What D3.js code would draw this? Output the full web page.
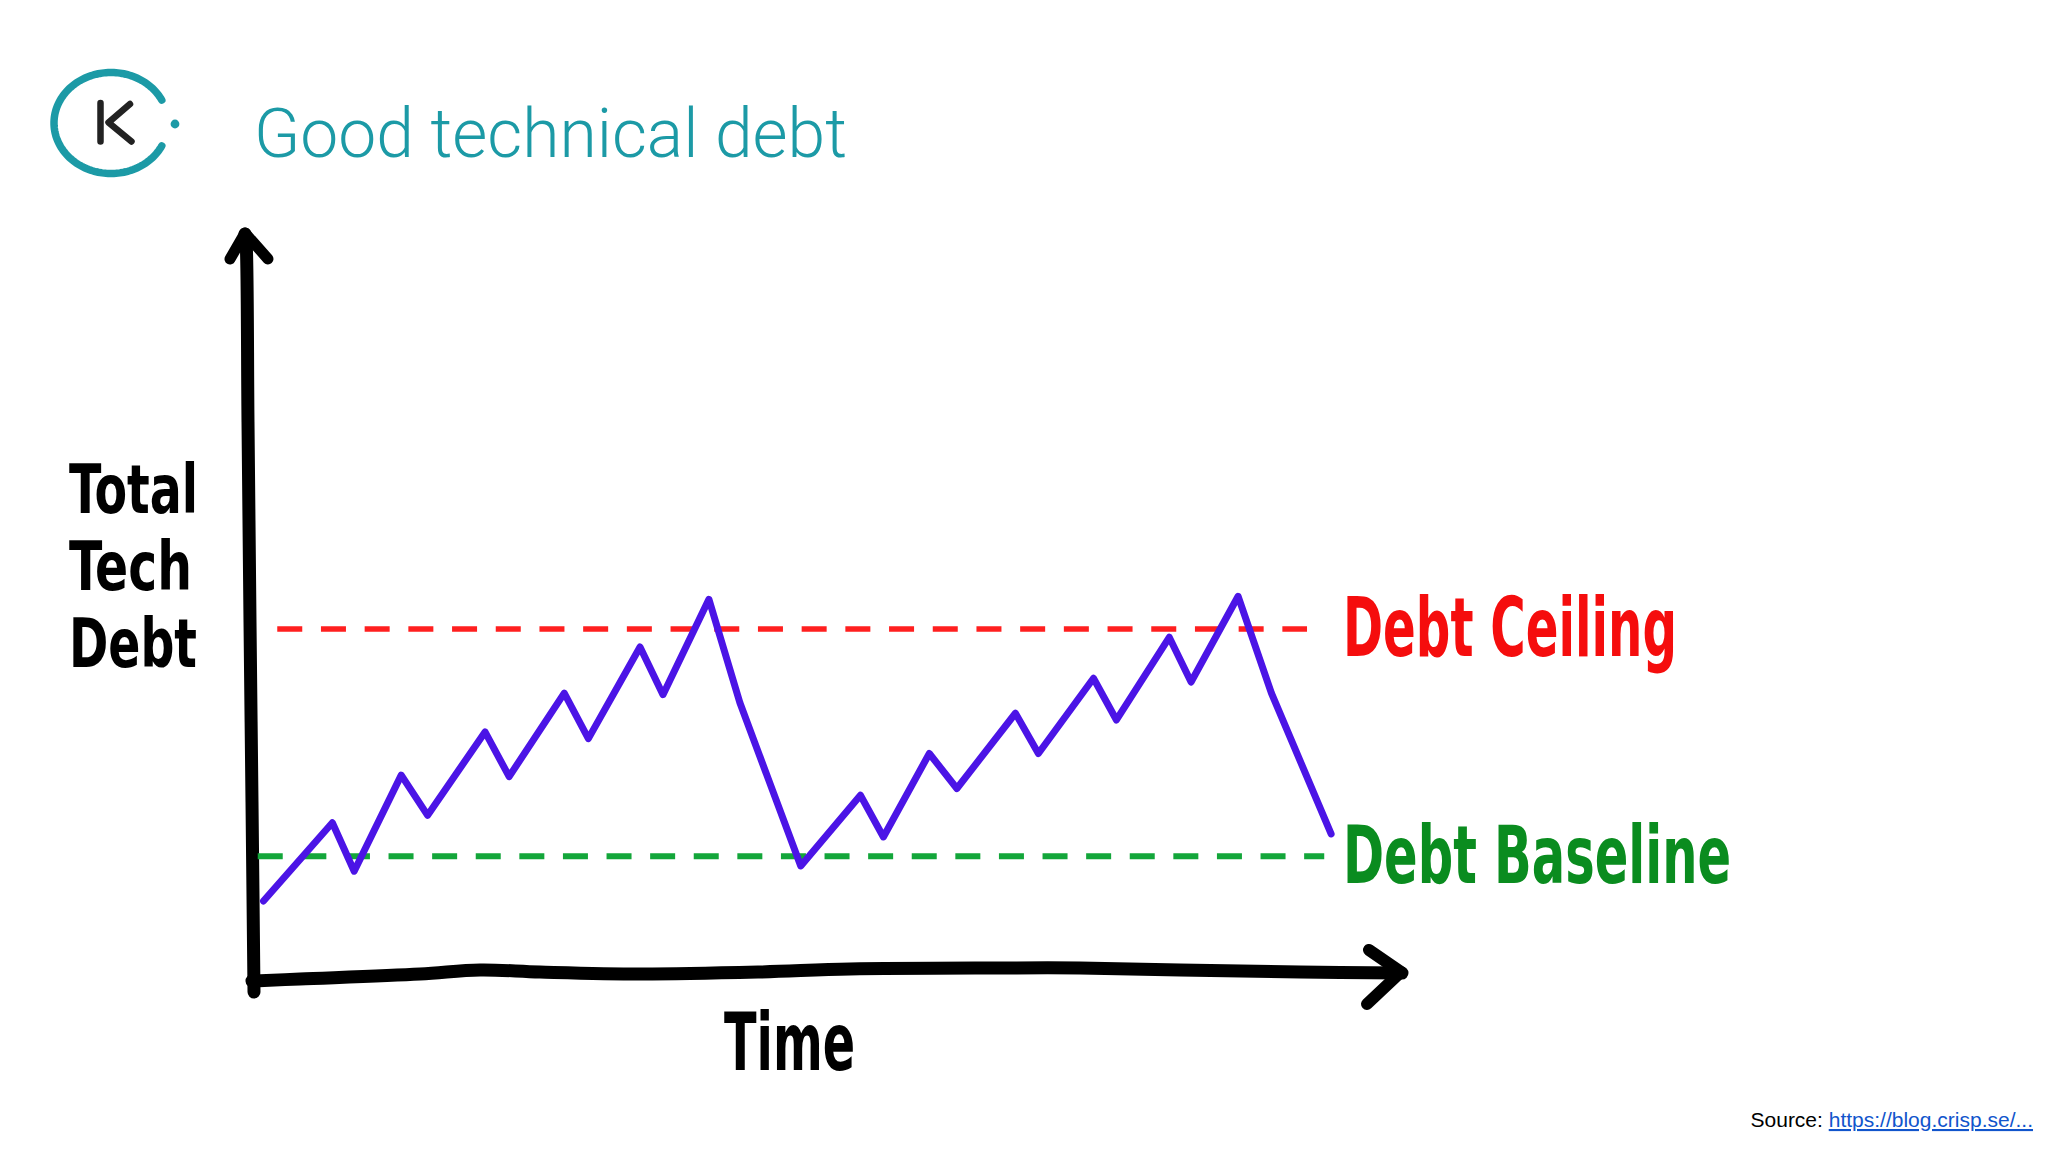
<!DOCTYPE html>
<html>
<head>
<meta charset="utf-8">
<script src="https://cdn.jsdelivr.net/npm/d3@7"></script>
<style>
  html, body { margin: 0; padding: 0; background: #ffffff; }
  svg { display: block; }
</style>
</head>
<body>
<svg id="chart" width="2048" height="1152"></svg>
<script>
// ---------------- DATA ----------------
const titleText = "Good technical debt";
const timeValues = [1.0, 7.0, 8.9, 13.0, 15.3, 20.3, 22.4, 27.2, 29.3, 33.8, 35.8, 39.8, 42.5,
                    47.8, 53.0, 55.0, 59.0, 61.4, 66.5, 68.5, 73.3, 75.3, 79.9, 81.8, 85.9, 88.8, 94.0];
const debtValues = [10.2, 20.7, 14.2, 27.1, 21.7, 32.9, 26.9, 38.1, 32.0, 44.3, 37.9, 50.7, 36.8,
                    14.9, 24.4, 18.8, 30.0, 25.3, 35.4, 30.0, 40.1, 34.5, 45.6, 39.6, 51.1, 38.1, 19.2];
const ceilingLevel = 46.7;
const ceilingSpan = [2.2, 91.9];
const baselineLevel = 16.2;
const baselineSpan = [0.5, 93.4];
const yLabelLines = ["Total", "Tech", "Debt"];
const xLabel = "Time";
const ceilingLabel = "Debt Ceiling";
const baselineLabel = "Debt Baseline";
const sourcePrefix = "Source: ";
const sourceLink = "https://blog.crisp.se/...";

// ---------------- SETUP ----------------
const svg = d3.select("#chart");
const x = d3.scaleLinear().domain([0, 100]).range([252, 1400]);
const y = d3.scaleLinear().domain([0, 100]).range([977, 232]);

const teal = "#1c9aa6";

// ---------------- LOGO ----------------
const logo = svg.append("g").attr("transform", "translate(111,123)");
const rx = 57, ry = 50.5, gapDeg = 27;
const arcPts = d3.range(gapDeg, 360 - gapDeg + 0.1, 2).map(a => {
  const t = a * Math.PI / 180;
  return [rx * Math.cos(t), -ry * Math.sin(t)];
});
logo.append("path")
  .attr("d", d3.line()(arcPts))
  .attr("fill", "none").attr("stroke", teal)
  .attr("stroke-width", 7.5).attr("stroke-linecap", "round");
logo.append("circle").attr("cx", 64).attr("cy", 1).attr("r", 4.4).attr("fill", teal);
logo.append("path")
  .attr("d", "M-10.5,-20 L-10.5,18.5 M19,-19 L-2.5,-0.5 L20.5,18.5")
  .attr("fill", "none").attr("stroke", "#222")
  .attr("stroke-width", 6.5).attr("stroke-linecap", "round").attr("stroke-linejoin", "round");

// ---------------- TITLE ----------------
svg.append("text")
  .attr("x", 254).attr("y", 157)
  .attr("font-family", "Roboto").attr("font-weight", 300)
  .attr("font-size", 69).attr("fill", teal)
  .attr("textLength", 593).attr("lengthAdjust", "spacingAndGlyphs")
  .text(titleText);

// ---------------- AXES (hand drawn) ----------------
const x0 = x.range()[0], x1 = x.range()[1];
const y0 = y.range()[0], y1 = y.range()[1];
// gentle wobble offsets along the axes
const yAxisPts = [[-7, 2], [-6, 8], [-4, 190], [-2, 390], [0, 570], [2, 760]]
  .map(([dx, dy]) => [x0 + dx, y1 + dy]);
const xAxisPts = [[0, 4], [48, 2], [168, -3], [228, -7], [288, -5], [388, -3], [508, -5],
                  [598, -8], [748, -9], [828, -9], [928, -7], [1048, -5], [1150, -4]]
  .map(([dx, dy]) => [x0 + dx, y0 + dy]);

const smooth = d3.line().curve(d3.curveCatmullRom.alpha(0.5));
svg.append("path").attr("d", smooth(yAxisPts))
  .attr("fill", "none").attr("stroke", "#000").attr("stroke-width", 13).attr("stroke-linecap", "round");
svg.append("path").attr("d", smooth(xAxisPts))
  .attr("fill", "none").attr("stroke", "#000").attr("stroke-width", 13).attr("stroke-linecap", "round");
// arrow heads
svg.append("path")
  .attr("d", d3.line()([[x0 - 22, y1 + 27], [x0 - 7, y1 + 1], [x0 + 16, y1 + 27]]))
  .attr("fill", "none").attr("stroke", "#000").attr("stroke-width", 11)
  .attr("stroke-linecap", "round").attr("stroke-linejoin", "round");
svg.append("path")
  .attr("d", d3.line()([[x1 - 31, y0 - 27], [x1 + 1, y0 - 5], [x1 - 33, y0 + 27]]))
  .attr("fill", "none").attr("stroke", "#000").attr("stroke-width", 12)
  .attr("stroke-linecap", "round").attr("stroke-linejoin", "round");

// ---------------- REFERENCE LINES ----------------
svg.append("line")
  .attr("x1", x(ceilingSpan[0])).attr("x2", x(ceilingSpan[1]))
  .attr("y1", y(ceilingLevel)).attr("y2", y(ceilingLevel))
  .attr("stroke", "#ff1f1f").attr("stroke-width", 5.5).attr("stroke-dasharray", "25 18.7");
svg.append("line")
  .attr("x1", x(baselineSpan[0])).attr("x2", x(baselineSpan[1]))
  .attr("y1", y(baselineLevel)).attr("y2", y(baselineLevel))
  .attr("stroke", "#13a63a").attr("stroke-width", 6).attr("stroke-dasharray", "25 18.6");

// ---------------- DEBT LINE ----------------
const pts = timeValues.map((t, i) => [t, debtValues[i]]);
svg.append("path")
  .datum(pts)
  .attr("d", d3.line().x(d => x(d[0])).y(d => y(d[1])))
  .attr("fill", "none").attr("stroke", "#4b14e6")
  .attr("stroke-width", 7).attr("stroke-linejoin", "round").attr("stroke-linecap", "round");

// ---------------- HAND-LETTERED LABELS ----------------
const handFont = "'Liberation Sans Narrow', 'DejaVu Sans Condensed', sans-serif";
function handText(txt, xs, ys, width, size, color) {
  svg.append("text")
    .attr("x", xs).attr("y", ys)
    .attr("font-family", handFont).attr("font-weight", 700)
    .attr("font-size", size).attr("fill", color)
    .attr("textLength", width).attr("lengthAdjust", "spacingAndGlyphs")
    .text(txt);
}
// stacked y-axis title (three lines)
const yLabelWidths = [129, 123, 128];
const yLabelBaselines = [513, 590, 667];
yLabelLines.forEach((t, i) => handText(t, 69, yLabelBaselines[i], yLabelWidths[i], 68, "#000"));
handText(xLabel, 724, 1070, 131, 80, "#000");
handText(ceilingLabel, 1343, y(ceilingLevel) + 27, 334, 82, "#f50d0d");
handText(baselineLabel, 1343, y(baselineLevel) + 27, 388, 81, "#0a8c1f");

// ---------------- SOURCE ----------------
const src = svg.append("text")
  .attr("x", 2033).attr("y", 1127)
  .attr("text-anchor", "end")
  .attr("font-family", "'Liberation Sans', Arial, sans-serif")
  .attr("font-size", 21).attr("fill", "#000");
src.append("tspan").text(sourcePrefix);
src.append("tspan").attr("fill", "#1155cc").attr("text-decoration", "underline").text(sourceLink);
</script>
</body>
</html>
